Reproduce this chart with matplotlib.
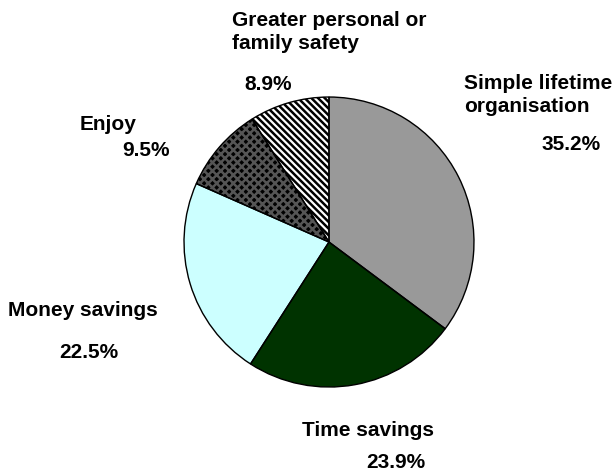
import matplotlib.pyplot as plt

# reasons and shares (percent)
labels = ['Simple lifetime\norganisation', 'Time savings', 'Money savings',
          'Enjoy', 'Greater personal or\nfamily safety']
shares = [35.2, 23.9, 22.5, 9.5, 8.9]
faces = ['#999999', '#003300', '#ccffff', '#000000', '#ffffff']
hatches = ['', '', '', 'xxxx', '\\\\\\\\\\']
hatch_cols = ['#999999', '#003300', '#ccffff', '#555555', '#000000']

plt.rcParams['font.family'] = ['Liberation Sans', 'DejaVu Sans']
plt.rcParams['hatch.linewidth'] = 1.8

fig = plt.figure(figsize=(6.15, 4.71), dpi=100)
ax = fig.add_axes([0.2992, 0.1783, 0.4715, 0.6157])

# filled, hatched wedges first (hatch takes the edge colour)
wedges, _ = ax.pie(shares, startangle=90, counterclock=False, colors=faces,
                   wedgeprops=dict(linewidth=0))
for w, h, hc in zip(wedges, hatches, hatch_cols):
    w.set_hatch(h)
    w.set_edgecolor(hc)

# black outlines on top
ax.pie(shares, startangle=90, counterclock=False,
       wedgeprops=dict(fill=False, edgecolor='black', linewidth=1.0))
ax.set_xlim(-1, 1)
ax.set_ylim(-1, 1)
ax.set_aspect('auto')
ax.axis('off')

W, H = 615.0, 471.0
def put(x, y, s, ha='left'):
    fig.text(x / W, 1 - y / H, s, ha=ha, va='center', fontsize=15,
             fontweight='bold', linespacing=1.3)

# category names
put(464, 95, labels[0])
put(302, 431, labels[1])
put(8, 311, labels[2])
put(80, 125, labels[3])
put(232, 32, labels[4])

# percentages
put(571, 145, f'{shares[0]:.1f}%', ha='center')
put(396, 463, f'{shares[1]:.1f}%', ha='center')
put(89, 352, f'{shares[2]:.1f}%', ha='center')
put(146, 151, f'{shares[3]:.1f}%', ha='center')
put(268, 85, f'{shares[4]:.1f}%', ha='center')

fig.savefig('out.png', dpi=100, facecolor='white')
